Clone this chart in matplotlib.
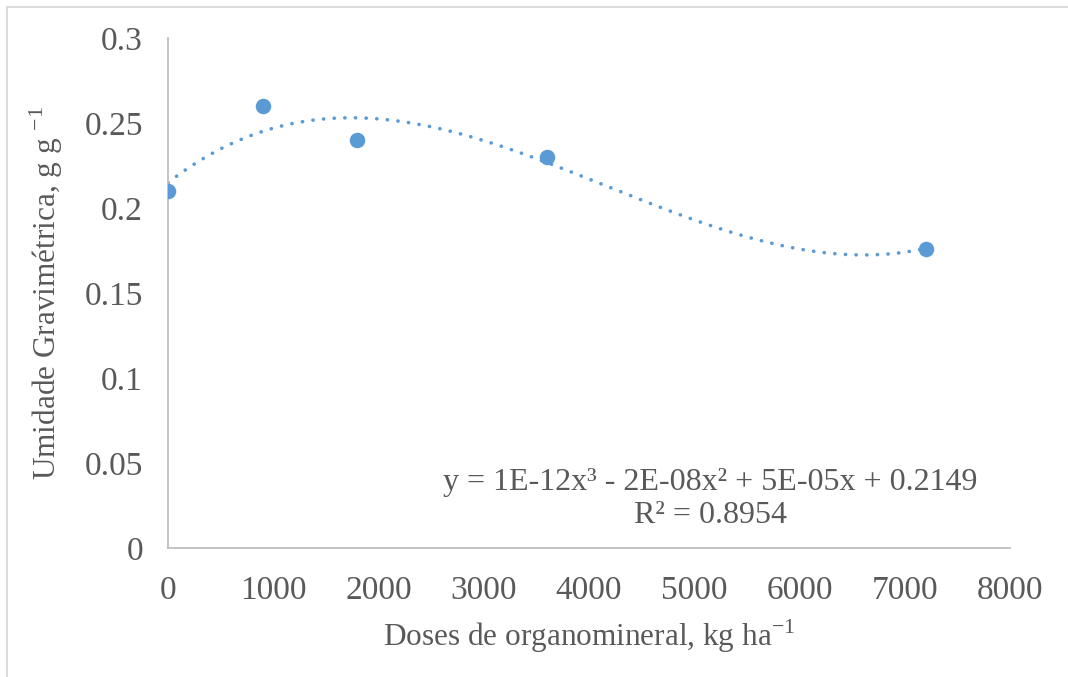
import numpy as np
import matplotlib
matplotlib.use('Agg')
import matplotlib.pyplot as plt
from matplotlib.lines import Line2D

# dados
doses = [0, 900, 1800, 3600, 7200]
umidade = [0.21, 0.26, 0.24, 0.23, 0.176]
x_ticks = [0, 1000, 2000, 3000, 4000, 5000, 6000, 7000, 8000]
y_ticks = [0, 0.05, 0.1, 0.15, 0.2, 0.25, 0.3]
y_tick_labels = ['0', '0.05', '0.1', '0.15', '0.2', '0.25', '0.3']
equacao = 'y = 1E-12x³ - 2E-08x² + 5E-05x + 0.2149\nR² = 0.8954'

blue = '#5B9BD5'
grey_text = '#595959'
grey_line = '#BFBFBF'

plt.rcParams['font.family'] = ['Liberation Serif', 'DejaVu Serif']
plt.rcParams['mathtext.fontset'] = 'custom'
plt.rcParams['mathtext.rm'] = 'Liberation Serif'

W, H = 1068, 677
fig = plt.figure(figsize=(W / 100, H / 100), dpi=100)
ax = fig.add_axes([168 / W, 1 - 548 / H, (1010 - 168) / W, (548 - 38) / H])

# linha de tendencia polinomial (ordem 3), como no Excel
coef = np.polyfit(doses, umidade, 3)
xs = np.linspace(min(doses), max(doses), 300)
ax.plot(xs, np.polyval(coef, xs), color=blue, lw=2.6,
        linestyle=(0, (0.05, 2.9)), dash_capstyle='round', zorder=2)
ax.scatter(doses, umidade, s=125, color=blue, zorder=3, linewidths=0)

ax.set_xlim(0, 8000)
ax.set_ylim(0, 0.3)
ax.set_xticks(x_ticks)
ax.set_yticks(y_ticks)
ax.set_yticklabels(y_tick_labels)
ax.tick_params(length=0, labelsize=24, colors=grey_text)
ax.tick_params(axis='x', pad=20)
ax.tick_params(axis='y', pad=18)

for side in ['top', 'right']:
    ax.spines[side].set_visible(False)
for side in ['left', 'bottom']:
    ax.spines[side].set_color(grey_line)
    ax.spines[side].set_linewidth(1.3)

ax.set_xlabel('Doses de organomineral, kg ha$^{\\mathregular{-1}}$', fontsize=22.5, color=grey_text, labelpad=8)
ax.set_ylabel('Umidade Gravimétrica, g g $^{\\mathregular{-1}}$', fontsize=22.5, color=grey_text, labelpad=14)

ax.text(710 / W, 1 - 499 / H, equacao, transform=fig.transFigure, ha='center', va='center',
        fontsize=23, color=grey_text, linespacing=1.2)

# moldura do grafico
fig.add_artist(Line2D([7 / W, 1], [1 - 7 / H, 1 - 7 / H], transform=fig.transFigure, color='#D9D9D9', lw=1.3))
fig.add_artist(Line2D([7 / W, 7 / W], [0, 1 - 7 / H], transform=fig.transFigure, color='#D9D9D9', lw=1.3))

fig.savefig('out.png', dpi=100, facecolor='white')
